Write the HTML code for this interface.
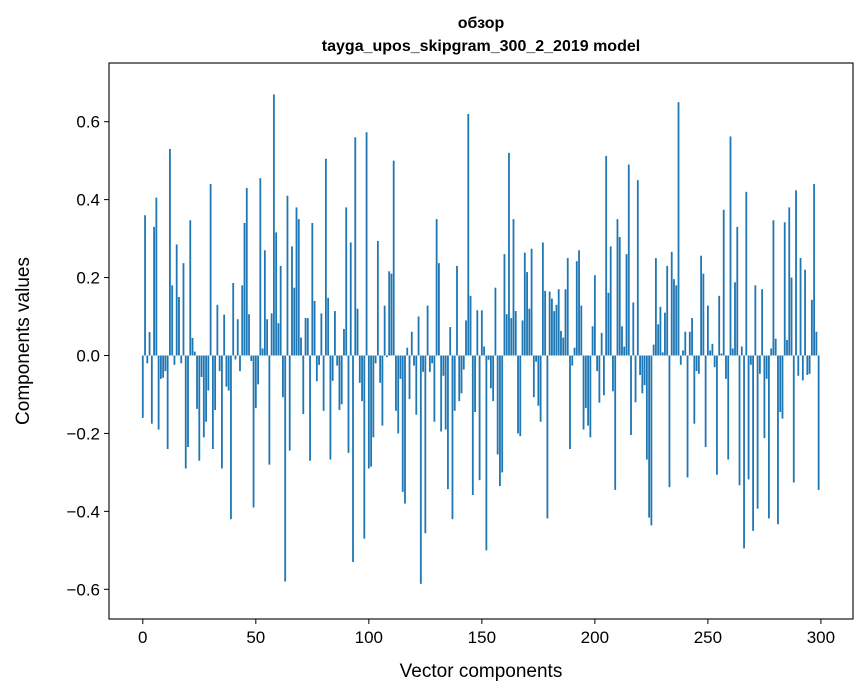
<!DOCTYPE html>
<html><head><meta charset="utf-8"><style>
body{margin:0;background:#fff;}
svg{display:block;font-family:"Liberation Sans","DejaVu Sans",sans-serif;}
</style></head><body>
<svg id="chart" width="867" height="696" viewBox="0 0 867 696" xmlns="http://www.w3.org/2000/svg">
<rect width="867" height="696" fill="#fff"/>
<text x="481" y="28" text-anchor="middle" font-size="16" font-weight="bold">обзор</text>
<text x="481" y="51" text-anchor="middle" font-size="16" font-weight="bold">tayga_upos_skipgram_300_2_2019 model</text>
<g id="bars"></g>
<g id="axes"></g>
<rect x="109" y="63" width="744" height="556" fill="none" stroke="#000" stroke-width="1.1"/>
<text x="481" y="677" text-anchor="middle" font-size="19">Vector components</text>
<text transform="translate(29,341) rotate(-90)" text-anchor="middle" font-size="19">Components values</text>
</svg>
<script>
const values = [-0.16,0.36,-0.02,0.06,-0.175,0.33,0.405,-0.19,-0.06,-0.057,
-0.04,-0.24,0.53,0.18,-0.024,0.285,0.15,-0.02,0.237,-0.29,
-0.235,0.347,0.045,0.01,-0.137,-0.27,-0.055,-0.21,-0.17,-0.09,
0.44,-0.24,-0.14,0.13,-0.04,-0.29,0.105,-0.08,-0.09,-0.42,
0.186,-0.01,0.093,-0.04,0.18,0.34,0.43,0.106,-0.014,-0.39,
-0.135,-0.074,0.455,0.018,0.27,0.093,-0.28,0.108,0.67,0.316,
0.083,0.23,-0.107,-0.58,0.41,-0.244,0.28,0.174,0.38,0.35,
0.046,-0.15,0.096,0.096,-0.27,0.34,0.14,-0.066,-0.024,0.108,
-0.142,0.505,0.148,-0.267,-0.065,0.114,-0.026,-0.14,-0.125,0.068,
0.38,-0.25,0.29,-0.53,0.56,0.12,-0.07,-0.117,-0.47,0.573,
-0.29,-0.285,-0.21,-0.02,0.294,-0.07,-0.18,0.128,-0.004,0.216,
0.21,0.5,-0.142,-0.2,-0.06,-0.35,-0.38,0.02,-0.112,0.061,
-0.026,-0.152,0.1,-0.586,-0.042,-0.456,0.128,-0.042,-0.02,-0.17,
0.35,0.237,-0.195,-0.052,-0.19,-0.343,0.073,-0.42,-0.142,0.23,
-0.117,-0.097,-0.036,0.09,0.62,0.153,-0.358,-0.145,0.116,-0.32,
0.116,0.023,-0.5,-0.011,-0.084,-0.117,0.174,-0.254,-0.335,-0.3,
0.26,0.106,0.52,0.096,0.35,0.114,-0.2,-0.207,0.09,0.264,
0.214,0.12,0.274,-0.107,-0.016,-0.129,-0.17,0.29,0.166,-0.418,
0.164,0.146,0.114,0.13,0.17,0.063,0.046,0.17,0.25,-0.24,
-0.026,0.02,0.242,0.27,0.128,-0.19,-0.135,-0.18,-0.21,0.075,
0.206,-0.04,-0.121,0.058,-0.102,0.512,0.161,0.28,-0.092,-0.345,
0.35,0.304,0.075,0.023,0.26,0.49,-0.204,0.136,-0.12,0.45,
-0.05,-0.097,-0.076,-0.267,-0.416,-0.436,0.028,0.25,0.08,0.125,
0.008,0.11,0.23,-0.338,0.266,0.196,0.18,0.65,-0.024,0.013,
0.061,-0.313,0.061,0.096,-0.175,-0.04,-0.047,0.256,0.21,-0.235,
0.128,0.013,0.03,-0.03,-0.306,0.153,0.005,0.374,-0.06,-0.267,
0.562,0.018,0.188,0.33,-0.333,0.023,-0.495,0.42,-0.318,-0.024,
-0.45,0.18,-0.393,-0.047,0.17,-0.212,-0.06,-0.418,0.018,0.347,
0.043,-0.433,-0.145,-0.162,0.342,0.04,0.38,0.2,-0.326,0.424,
-0.052,0.25,-0.064,0.22,-0.05,-0.047,0.143,0.44,0.061,-0.345];
const xTicks = [0,50,100,150,200,250,300];
const yTicks = [-0.6,-0.4,-0.2,0.0,0.2,0.4,0.6];
const yTickLabels = ["\u22120.6","\u22120.4","\u22120.2","0.0","0.2","0.4","0.6"];

const L=109,R=853,T=63,B=619;
const xMin=-14.95,xMax=314.2,yMin=-0.6762,yMax=0.7506;
function xs(v){return L+(v-xMin)/(xMax-xMin)*(R-L);}
function ys(v){return B-(v-yMin)/(yMax-yMin)*(B-T);}
const NS="http://www.w3.org/2000/svg";
const gb=document.getElementById('bars');
const bw=(xs(1)-xs(0))*0.8;
values.forEach((v,i)=>{
  const r=document.createElementNS(NS,'rect');
  
  
  const y0=ys(0),y1=ys(v);
  r.setAttribute('x',xs(i)-bw/2);
  r.setAttribute('y',Math.min(y0,y1));
  r.setAttribute('width',bw);
  r.setAttribute('height',Math.abs(y1-y0));
  r.setAttribute('fill','#1f77b4');
  gb.appendChild(r);
});
const ga=document.getElementById('axes');
xTicks.forEach(t=>{
  const l=document.createElementNS(NS,'line');
  
  
  l.setAttribute('x1',xs(t));l.setAttribute('x2',xs(t));
  l.setAttribute('y1',B);l.setAttribute('y2',B+5);
  l.setAttribute('stroke','#000');
  ga.appendChild(l);
  const tx=document.createElementNS(NS,'text');
  
  
  tx.setAttribute('x',xs(t));tx.setAttribute('y',B+24);
  tx.setAttribute('text-anchor','middle');tx.setAttribute('font-size','17');
  tx.textContent=String(t);
  ga.appendChild(tx);
});
yTicks.forEach((t,i)=>{
  const l=document.createElementNS(NS,'line');
  
  
  l.setAttribute('x1',L-5);l.setAttribute('x2',L);
  l.setAttribute('y1',ys(t));l.setAttribute('y2',ys(t));
  l.setAttribute('stroke','#000');
  ga.appendChild(l);
  const tx=document.createElementNS(NS,'text');
  
  
  tx.setAttribute('x',L-9);tx.setAttribute('y',ys(t)+6);
  tx.setAttribute('text-anchor','end');tx.setAttribute('font-size','17');
  tx.textContent=yTickLabels[i];
  ga.appendChild(tx);
});
</script>
</body></html>
